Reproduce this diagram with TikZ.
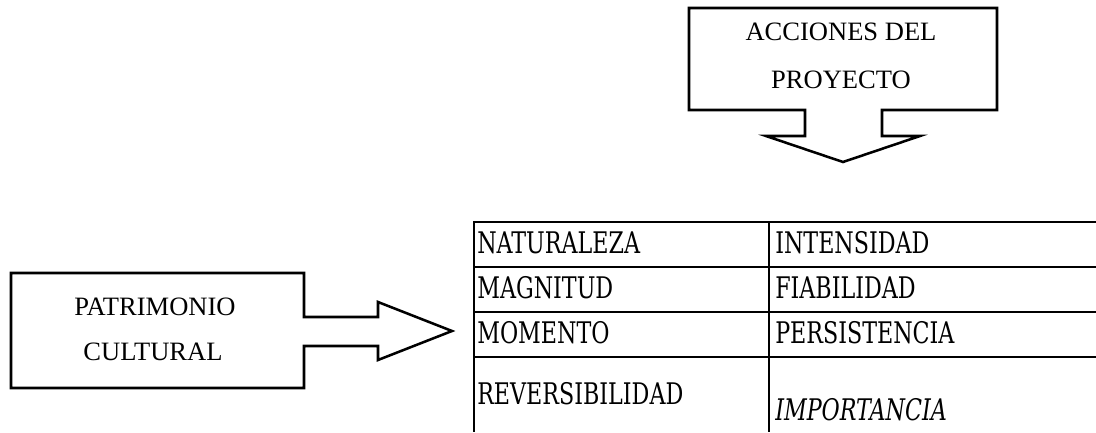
\documentclass[tikz,border=0pt]{standalone}
\usepackage{fontspec}
\setmainfont{Liberation Serif}
\newfontfamily\tabfont[FakeStretch=0.83]{DejaVu Serif Condensed}
\begin{document}
\begin{tikzpicture}[x=0.75pt,y=-0.75pt,
  shapeline/.style={draw=black,line width=1.9pt,line join=miter},
  gridline/.style={draw=black,line width=2pt},
  boxtext/.style={inner sep=0pt,anchor=base,font=\fontsize{19.9pt}{21pt}\selectfont},
  celltext/.style={inner sep=0pt,anchor=base west,font=\tabfont\fontsize{22.3pt}{24pt}\selectfont}]
\useasboundingbox (0,0) rectangle (1096,432);
% top callout
\draw[shapeline] (689,8) -- (997,8) -- (997,110) -- (882,110) -- (882,136) -- (920,136)
  -- (843,162) -- (766,136) -- (805,136) -- (805,110) -- (689,110) -- cycle;
\node[boxtext] (acc1) at (841,40) {ACCIONES DEL};
\node[boxtext] (acc2) at (841,88) {PROYECTO};
% left callout
\draw[shapeline] (11,273) -- (304,273) -- (304,317) -- (378,317) -- (378,302) -- (452,331)
  -- (378,360) -- (378,346) -- (304,346) -- (304,388) -- (11,388) -- cycle;
\node[boxtext] (pat1) at (155,315) {PATRIMONIO};
\node[boxtext] (pat2) at (153,360) {CULTURAL};
% table
\foreach \yy in {222,267,312,357} \draw[gridline] (474,\yy) -- (1096,\yy);
\draw[gridline] (474,221) -- (474,432);
\draw[gridline] (769,221) -- (769,432);
\node[celltext] (c11) at (477,253) {NATURALEZA};
\node[celltext] (c21) at (477,298) {MAGNITUD};
\node[celltext] (c31) at (477,343) {MOMENTO};
\node[celltext] (c41) at (477,404) {REVERSIBILIDAD};
\node[celltext] (c12) at (775,253) {INTENSIDAD};
\node[celltext] (c22) at (775,298) {FIABILIDAD};
\node[celltext] (c32) at (775,343) {PERSISTENCIA};
\node[celltext,font=\tabfont\itshape\fontsize{22.3pt}{24pt}\selectfont] (c42) at (775,420) {IMPORTANCIA};
\end{tikzpicture}
\end{document}
